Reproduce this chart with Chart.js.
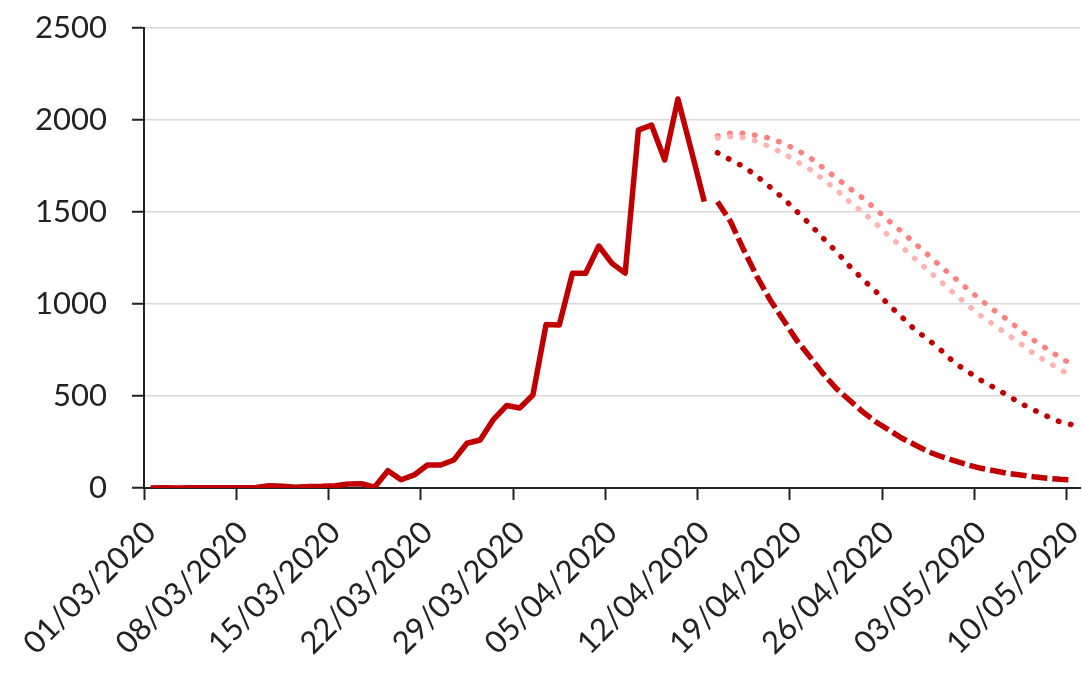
<!DOCTYPE html>
<html>
<head>
<meta charset="utf-8">
<script src="https://cdn.jsdelivr.net/npm/chart.js@4/dist/chart.umd.min.js"></script>
<style>
  html, body { margin: 0; padding: 0; background: #fff; }
  #wrap { width: 1082px; height: 695px; }
</style>
</head>
<body>
<div id="wrap"><canvas id="deathsChart"></canvas></div>
<script>
// days from 01/03/2020 to 10/05/2020
const categories = [
    '01/03/2020', '02/03/2020', '03/03/2020', '04/03/2020', '05/03/2020', '06/03/2020', '07/03/2020',
    '08/03/2020', '09/03/2020', '10/03/2020', '11/03/2020', '12/03/2020', '13/03/2020', '14/03/2020',
    '15/03/2020', '16/03/2020', '17/03/2020', '18/03/2020', '19/03/2020', '20/03/2020', '21/03/2020',
    '22/03/2020', '23/03/2020', '24/03/2020', '25/03/2020', '26/03/2020', '27/03/2020', '28/03/2020',
    '29/03/2020', '30/03/2020', '31/03/2020', '01/04/2020', '02/04/2020', '03/04/2020', '04/04/2020',
    '05/04/2020', '06/04/2020', '07/04/2020', '08/04/2020', '09/04/2020', '10/04/2020', '11/04/2020',
    '12/04/2020', '13/04/2020', '14/04/2020', '15/04/2020', '16/04/2020', '17/04/2020', '18/04/2020',
    '19/04/2020', '20/04/2020', '21/04/2020', '22/04/2020', '23/04/2020', '24/04/2020', '25/04/2020',
    '26/04/2020', '27/04/2020', '28/04/2020', '29/04/2020', '30/04/2020', '01/05/2020', '02/05/2020',
    '03/05/2020', '04/05/2020', '05/05/2020', '06/05/2020', '07/05/2020', '08/05/2020', '09/05/2020',
    '10/05/2020'
];

// observed, 01/03 to 12/04
const observed = [
    0, 1, 0, 1, 2, 1, 1, 1, 3, 12, 10, 4, 8, 9, 12, 22, 23, 5, 94, 45, 71,
    125, 125, 152, 243, 261, 372, 448, 435, 505, 889, 886, 1167, 1167, 1315, 1221, 1168,
    1945, 1973, 1783, 2114, 1840, 1556
];

// projections, 13/04 to 10/05
const projFast = [
    1556, 1447, 1293, 1148, 1022, 913, 804, 714, 623, 542, 478, 415, 360, 315,
    270, 234, 197, 170, 148, 125, 107, 94, 80, 71, 61, 53, 47, 43
];
const projMid = [
    1822, 1783, 1746, 1694, 1635, 1574, 1504, 1435, 1359, 1286, 1207, 1136, 1069, 995,
    928, 859, 806, 746, 679, 632, 585, 545, 504, 460, 424, 390, 359, 342
];
const projSlowA = [
    1913, 1928, 1928, 1916, 1901, 1873, 1838, 1796, 1741, 1686, 1630, 1577, 1516, 1452,
    1391, 1328, 1266, 1200, 1141, 1080, 1021, 965, 915, 857, 803, 756, 708, 668
];
const projSlowB = [
    1902, 1909, 1904, 1885, 1853, 1818, 1775, 1732, 1678, 1621, 1557, 1500, 1438, 1370,
    1309, 1245, 1181, 1118, 1055, 993, 935, 885, 834, 783, 730, 685, 645, 603
];

const yTicks = [0, 500, 1000, 1500, 2000, 2500];

const lead = Array(observed.length).fill(null);
const axisColor = '#222222';
const fontSpec = { family: 'Lato', size: 31 };

const dotted = (label, data, color) => ({
    label: label,
    data: lead.concat(data),
    borderColor: color,
    borderWidth: 5.5,
    borderDash: [0.5, 12],
    borderCapStyle: 'round',
    pointRadius: 0,
    fill: false,
    tension: 0
});

const datasets = [
    dotted('Projection C', projSlowB, '#ffb3b3'),
    dotted('Projection B', projSlowA, '#ff8080'),
    dotted('Projection A', projMid, '#c00000'),
    {
        label: 'Projection (fast)',
        data: lead.concat(projFast),
        borderColor: '#c00000',
        borderWidth: 5.5,
        borderDash: [16, 5],
        pointRadius: 0,
        fill: false,
        tension: 0
    },
    {
        label: 'Observed',
        data: observed,
        borderColor: '#c00000',
        borderWidth: 5.5,
        borderJoinStyle: 'round',
        borderCapStyle: 'butt',
        pointRadius: 0,
        fill: false,
        tension: 0
    }
];

new Chart(document.getElementById('deathsChart').getContext('2d'), {
    type: 'line',
    data: { labels: categories, datasets: datasets },
    options: {
        responsive: true,
        maintainAspectRatio: false,
        animation: false,
        layout: { padding: { top: 28, right: 2, left: 0, bottom: 0 } },
        plugins: { legend: { display: false }, tooltip: { enabled: false } },
        scales: {
            x: {
                type: 'category',
                offset: true,
                afterFit: scale => {
                    scale.height = 207;
                    scale.paddingLeft = 0;
                    scale.paddingRight = 0;
                },
                grid: {
                    offset: true,
                    drawOnChartArea: false,
                    drawTicks: true,
                    tickLength: 12,
                    tickWidth: 2,
                    tickColor: ctx => (ctx.index % 7 === 0 ? axisColor : 'rgba(0,0,0,0)')
                },
                border: { display: true, color: axisColor, width: 2 },
                ticks: {
                    autoSkip: false,
                    minRotation: 45,
                    maxRotation: 45,
                    padding: 14,
                    color: axisColor,
                    font: fontSpec,
                    callback: function (value, index) {
                        return index % 7 === 0 ? this.getLabelForValue(value) : '';
                    }
                }
            },
            y: {
                min: yTicks[0],
                max: yTicks[yTicks.length - 1],
                afterFit: scale => {
                    scale.width = 144;
                    scale.paddingTop = 0;
                    scale.paddingBottom = 0;
                },
                afterBuildTicks: scale => { scale.ticks = yTicks.map(v => ({ value: v })); },
                grid: {
                    color: '#d9d9d9',
                    lineWidth: 1.5,
                    tickLength: 12,
                    tickWidth: 2,
                    tickColor: axisColor
                },
                border: { display: true, color: axisColor, width: 2 },
                ticks: {
                    padding: 25,
                    color: axisColor,
                    font: fontSpec,
                    callback: value => String(value)
                }
            }
        }
    }
});
</script>
</body>
</html>
